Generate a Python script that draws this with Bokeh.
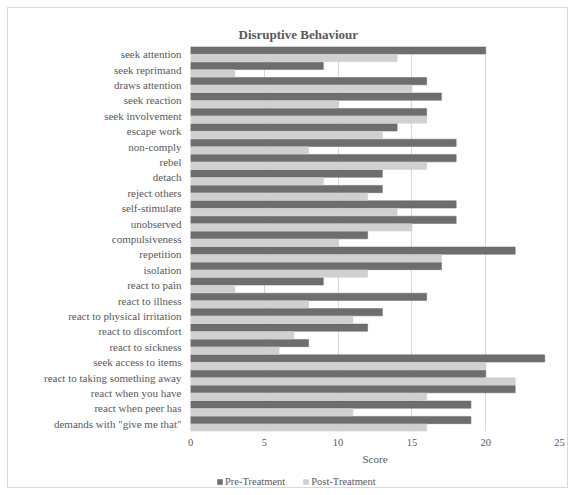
from bokeh.plotting import figure
from bokeh.layouts import column
from bokeh.models import FactorRange, Legend, LegendItem, Title, FixedTicker, ColumnDataSource
from bokeh.transform import dodge
from bokeh.embed import file_html
from bokeh.resources import INLINE

categories = ["seek attention", "seek reprimand", "draws attention", "seek reaction",
              "seek involvement", "escape work", "non-comply", "rebel", "detach",
              "reject others", "self-stimulate", "unobserved", "compulsiveness",
              "repetition", "isolation", "react to pain", "react to illness",
              "react to physical irritation", "react to discomfort", "react to sickness",
              "seek access to items", "react to taking something away",
              "react when you have", "react when peer has", 'demands with "give me that"']
pre_treatment = [20, 9, 16, 17, 16, 14, 18, 18, 13, 13, 18, 18, 12, 22, 17, 9, 16, 13, 12, 8, 24, 20, 22, 19, 19]
post_treatment = [14, 3, 15, 10, 16, 13, 8, 16, 9, 12, 14, 15, 10, 17, 12, 3, 8, 11, 7, 6, 20, 22, 16, 11, 16]
x_ticks = [0, 5, 10, 15, 20, 25]
series_names = ["Pre-Treatment", "Post-Treatment"]
series_colors = ["#6e6e6e", "#d0d0d0"]
series_lines = ["#666666", "#c8c8c8"]

src = ColumnDataSource(dict(cat=categories, pre=pre_treatment, post=post_treatment))

FONT = "Liberation Serif"
TXT = "#595959"

p = figure(width=559, height=459, y_range=FactorRange(*reversed(categories), range_padding=0),
           x_range=(0, 25), output_backend="svg", toolbar_location=None,
           min_border_left=182, min_border_right=8, min_border_top=38, min_border_bottom=33)
p.outline_line_color = None

p.hbar(y=dodge("cat", 0.245, range=p.y_range), right="pre", left=0, height=0.47,
       source=src, fill_color=series_colors[0], line_color=series_lines[0], line_width=0.5)
p.hbar(y=dodge("cat", -0.245, range=p.y_range), right="post", left=0, height=0.47,
       source=src, fill_color=series_colors[1], line_color=series_lines[1], line_width=0.5)

p.xaxis.ticker = FixedTicker(ticks=x_ticks)
p.xaxis.axis_label = "Score"
p.xaxis.axis_label_text_font = FONT
p.xaxis.axis_label_text_font_style = "normal"
p.xaxis.axis_label_text_font_size = "11px"
p.xaxis.axis_label_text_color = TXT
p.xaxis.axis_label_standoff = 4
p.xaxis.major_label_text_font = FONT
p.xaxis.major_label_text_font_size = "10.5px"
p.xaxis.major_label_text_color = TXT
p.xaxis.major_label_standoff = 7
for ax in (p.xaxis, p.yaxis):
    ax.axis_line_color = None
    ax.major_tick_line_color = None
    ax.minor_tick_line_color = None
    ax.major_tick_out = 0
    ax.major_tick_in = 0
p.yaxis.major_label_text_font = FONT
p.yaxis.major_label_text_font_size = "11px"
p.yaxis.major_label_text_color = TXT
p.yaxis.major_label_standoff = 9

p.ygrid.grid_line_color = None
p.xgrid.grid_line_color = "#d9d9d9"

p.title = Title(text="Disruptive Behaviour", align="left", offset=48,
                text_font=FONT, text_font_size="13px", text_color=TXT, text_font_style="bold")

# legend strip (its frame is aligned with the main plot's frame by the column layout)
q = figure(width=559, height=20, x_range=(0, 1), y_range=(0, 1), output_backend="svg",
           toolbar_location=None, min_border=0, outline_line_color=None)
q.axis.visible = False
q.grid.visible = False
items = []
for name, fc in zip(series_names, series_colors):
    r = q.hbar(y=[-5], left=[-6], right=[-5], height=1, fill_color=fc, line_color=None)
    items.append(LegendItem(label=name, renderers=[r]))
legend = Legend(items=items, orientation="horizontal", location=(26, 0),
                label_text_font=FONT, label_text_font_size="10.5px", label_text_color=TXT,
                label_height=12, label_width=10, glyph_width=7, glyph_height=7, spacing=17,
                label_standoff=2, border_line_color=None, background_fill_alpha=0,
                padding=2, margin=0)
q.add_layout(legend, "center")

layout = column(p, q, spacing=0)
layout.styles = {"border": "1px solid #d9d9d9", "margin-left": "7px", "margin-top": "7px"}

open("out.html", "w").write(file_html(layout, INLINE))
